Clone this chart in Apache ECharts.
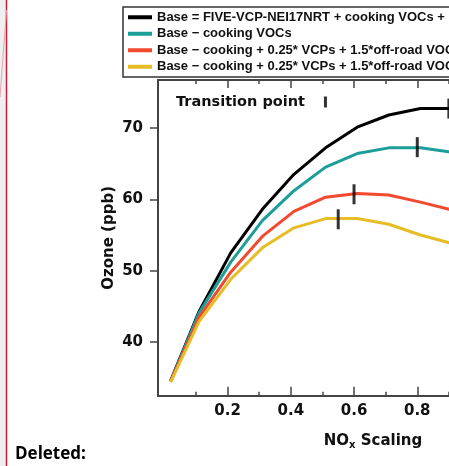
<!DOCTYPE html>
<html>
<head>
<meta charset="utf-8">
<script src="https://cdn.jsdelivr.net/npm/echarts@6/dist/echarts.min.js"></script>
<style>
html,body{margin:0;padding:0;background:#fff;overflow:hidden;width:449px;height:466px;}
#chart{width:620px;height:466px;}
</style>
</head>
<body>
<div id="chart"></div>
<script>
// ---- data ----
var noxScaling = [0.02, 0.11, 0.21, 0.31, 0.41, 0.51, 0.61, 0.71, 0.81, 0.91];
var seriesNames = [
  'Base = FIVE-VCP-NEI17NRT + cooking VOCs + 1.5*off-road VOCs',
  'Base − cooking VOCs',
  'Base − cooking + 0.25* VCPs + 1.5*off-road VOCs',
  'Base − cooking + 0.25* VCPs + 1.5*off-road VOCs '
];
var ozoneBase       = [34.6, 44.3, 52.5, 58.6, 63.5, 67.2, 70.1, 71.8, 72.7, 72.7];
var ozoneNoCooking  = [34.5, 44.1, 51.2, 57.0, 61.2, 64.5, 66.4, 67.2, 67.2, 66.6];
var ozoneScenario3  = [34.5, 43.5, 49.8, 54.8, 58.3, 60.3, 60.8, 60.6, 59.6, 58.5];
var ozoneScenario4  = [34.4, 42.9, 48.8, 53.2, 56.0, 57.3, 57.3, 56.5, 55.0, 53.8];
var transitionX     = [0.9, 0.8, 0.6, 0.55];
var transitionY     = [72.7, 67.3, 60.7, 57.2];
var xMajorTicks = [0.2, 0.4, 0.6, 0.8, 1.0, 1.2];
var xMinorTicks = [0.1, 0.3, 0.5, 0.7, 0.9, 1.1, 1.3];
var yTicks = [40, 50, 60, 70];
var colors = ['#000000', '#1c9e99', '#f2492f', '#e6bd24'];

var X_MIN = -0.02, X_MAX = 1.34, Y_MIN = 32.5, Y_MAX = 76.7;
var AX = '#444';
var FONT = 'DejaVu Sans';

function pairs(xs, ys){ return xs.map(function(x,i){ return [x, ys[i]]; }); }
var lineData = [ozoneBase, ozoneNoCooking, ozoneScenario3, ozoneScenario4];

function xAx(pos, ticks, len, line, labels, extra){
  var a = {
    type: 'value', position: pos, min: X_MIN, max: X_MAX, gridIndex: 0,
    axisLine: {show: line, onZero: false, lineStyle: {color: AX, width: 2}},
    axisTick: {show: true, inside: true, length: len, customValues: ticks, lineStyle: {color: AX, width: 1.5}},
    axisLabel: labels ? {show: true, customValues: xMajorTicks, margin: 8, color: '#111',
      fontFamily: FONT, fontWeight: 'bold', fontSize: 15} : {show: false},
    splitLine: {show: false}
  };
  if (extra) for (var k in extra) a[k] = extra[k];
  return a;
}

var series = lineData.map(function(d, i){
  return {
    name: seriesNames[i], type: 'line', data: pairs(noxScaling, d),
    showSymbol: false, symbol: 'none', color: colors[i],
    lineStyle: {width: 3, color: colors[i]}, z: 2 + i, animation: false
  };
});
series.push({
  name: 'Transition point', type: 'scatter', data: pairs(transitionX, transitionY),
  symbol: 'rect', symbolSize: [3, 20], color: '#000', itemStyle: {color: '#000'}, z: 10, animation: false
});

var chart = echarts.init(document.getElementById('chart'), null, {renderer: 'canvas'});
chart.setOption({
  backgroundColor: '#fff',
  animation: false,
  grid: {left: 158, top: 80, width: 430, height: 315.7, containLabel: false, outerBoundsMode: 'none'},
  xAxis: [
    xAx('bottom', xMajorTicks, 9, true, true, {
      name: '{a|NO}{b|x}{a| Scaling}', nameLocation: 'middle', nameGap: 35, nameMoveOverlap: false,
      nameTextStyle: {rich: {
        a: {fontFamily: FONT, fontWeight: 'bold', fontSize: 15, color: '#111', lineHeight: 20, verticalAlign: 'middle'},
        b: {fontFamily: FONT, fontWeight: 'bold', fontSize: 10, color: '#111', lineHeight: 10, verticalAlign: 'bottom'}
      }}
    }),
    xAx('bottom', xMinorTicks, 4, false, false),
    xAx('top', xMajorTicks, 8, true, false),
    xAx('top', xMinorTicks, 4, false, false)
  ],
  yAxis: [
    {type: 'value', position: 'left', min: Y_MIN, max: Y_MAX,
     axisLine: {show: true, onZero: false, lineStyle: {color: AX, width: 2}},
     axisTick: {show: true, inside: false, length: 8, customValues: yTicks, lineStyle: {color: AX, width: 1.5}},
     axisLabel: {show: true, customValues: yTicks, margin: 15, color: '#111', fontFamily: FONT, fontWeight: 'bold', fontSize: 15},
     splitLine: {show: false},
     name: 'Ozone (ppb)', nameLocation: 'middle', nameGap: 41, nameMoveOverlap: false,
     nameTextStyle: {fontFamily: FONT, fontWeight: 'bold', fontSize: 15, color: '#111'}},
    {type: 'value', position: 'right', min: Y_MIN, max: Y_MAX,
     axisLine: {show: true, onZero: false, lineStyle: {color: AX, width: 2}},
     axisTick: {show: false}, axisLabel: {show: false}, splitLine: {show: false}}
  ],
  legend: [
    {data: seriesNames, orient: 'vertical', left: 123, top: 7, padding: [3, 5, 3, 5],
     icon: 'rect', itemWidth: 24, itemHeight: 4, itemGap: 2,
     borderColor: '#333', borderWidth: 1.5, backgroundColor: '#fff',
     selectedMode: false,
     textStyle: {fontFamily: 'Liberation Sans', fontWeight: 'bold', fontSize: 13, lineHeight: 14.5, color: '#111'}},
    {data: ['Transition point'], orient: 'horizontal', left: 176, top: 94.5, padding: 0,
     align: 'right', icon: 'rect', itemWidth: 3, itemHeight: 11, selectedMode: false,
     textStyle: {fontFamily: FONT, fontWeight: 'bold', fontSize: 14.5, color: '#111', padding: [0, 14, 0, 0]}}
  ],
  graphic: [
    {type: 'rect', shape: {x: 0, y: 0, width: 6, height: 466}, style: {fill: '#efefef'}, silent: true},
    {type: 'line', shape: {x1: 6.5, y1: 0, x2: 6.5, y2: 466}, style: {stroke: '#c8203a', lineWidth: 1.5}, silent: true},
    {type: 'line', shape: {x1: 6.5, y1: 10, x2: 0, y2: 97}, style: {stroke: '#e9a3ae', lineWidth: 1}, silent: true},
    {type: 'text', left: 15, top: 446, style: {text: 'Deleted:', fontFamily: 'Open Sans', fontWeight: 'bold', fontSize: 17, fill: '#000'}, silent: true}
  ],
  series: series
});
</script>
</body>
</html>
